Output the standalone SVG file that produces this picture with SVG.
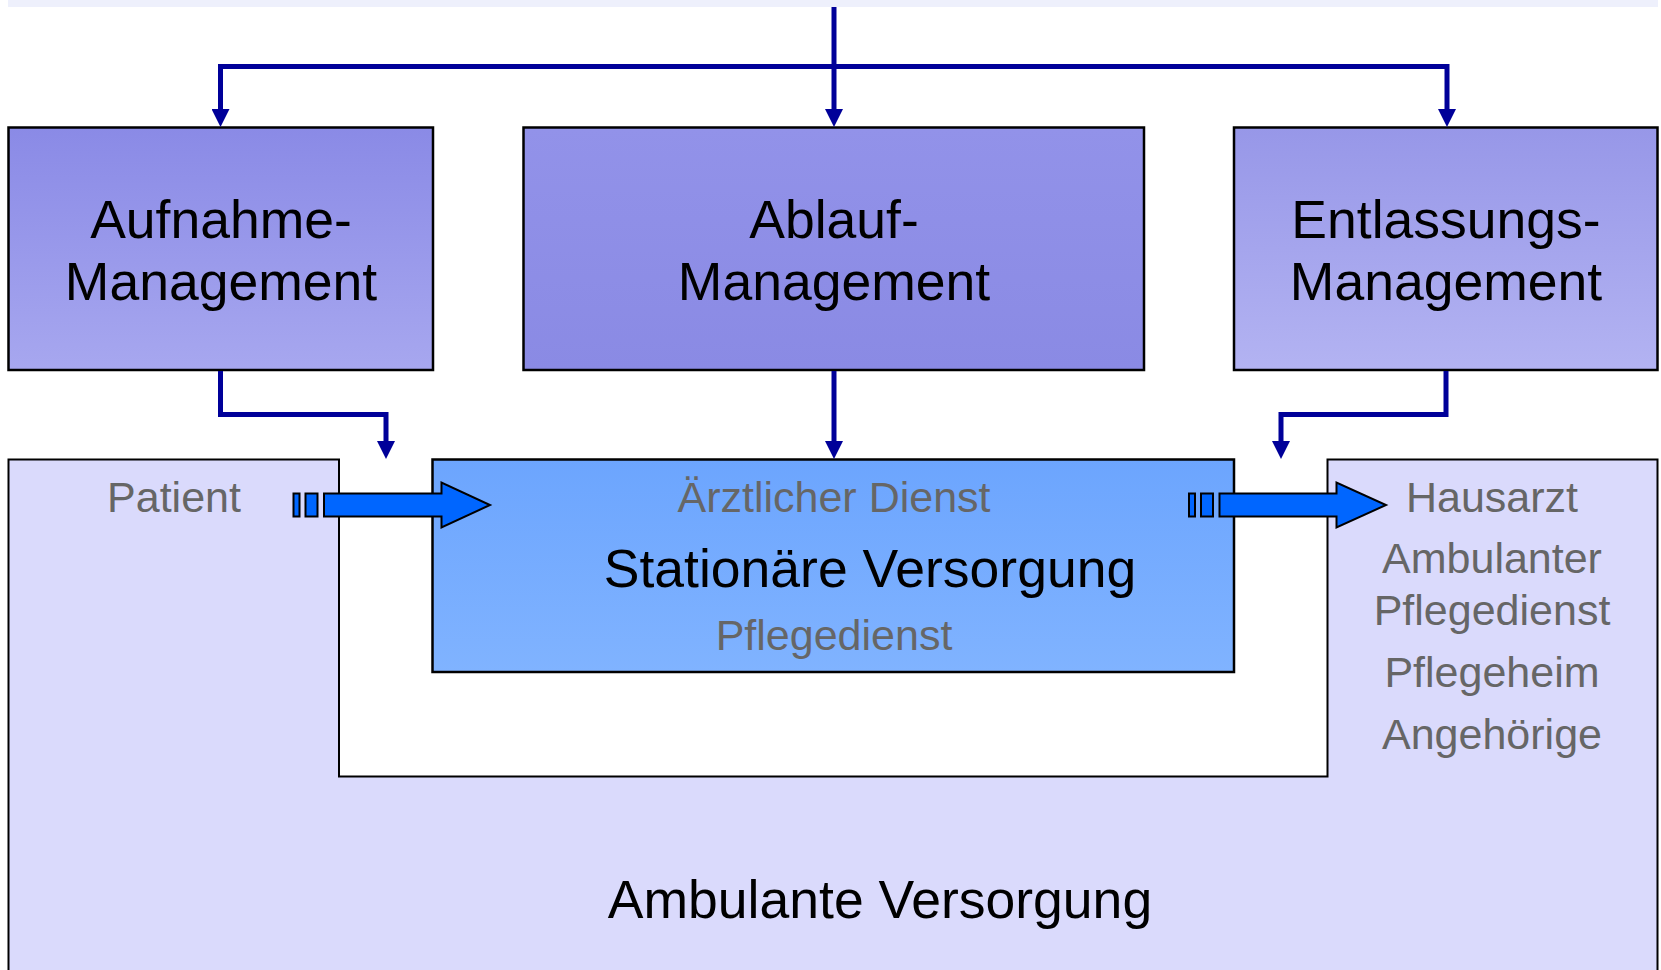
<svg xmlns="http://www.w3.org/2000/svg" width="1661" height="970" viewBox="0 0 1661 970">
<style>
.t{font-family:"Liberation Sans",Arial,sans-serif;text-anchor:middle}
.big{font-size:53.5px;fill:#000}
.sm{font-size:43px;fill:#666}
.box{stroke:#000;stroke-width:2.5}
.con{fill:none;stroke:#000099;stroke-width:5}
.flow{fill:#0066FF;stroke:#000;stroke-width:2}
</style>
<defs>
<linearGradient id="gA" x1="0" y1="0" x2="0" y2="1"><stop offset="0" stop-color="#8A8AE6"/><stop offset="1" stop-color="#A7A7EF"/></linearGradient>
<linearGradient id="gB" x1="0" y1="0" x2="0" y2="1"><stop offset="0" stop-color="#9292E9"/><stop offset="1" stop-color="#8A8AE4"/></linearGradient>
<linearGradient id="gC" x1="0" y1="0" x2="0" y2="1"><stop offset="0" stop-color="#9797E8"/><stop offset="1" stop-color="#B3B3F2"/></linearGradient>
<linearGradient id="gS" x1="0" y1="0" x2="0" y2="1"><stop offset="0" stop-color="#6CA5FE"/><stop offset="1" stop-color="#80B3FF"/></linearGradient>
<marker id="ah" viewBox="0 0 18 18" refX="0" refY="9" markerWidth="18" markerHeight="18" markerUnits="userSpaceOnUse" orient="auto"><path d="M0,0 L18,9 L0,18 Z" fill="#000099"/></marker>
</defs>
<rect x="8" y="0" width="1650" height="7" fill="#EEF0FC"/>
<g id="ambulant">
<path d="M8.5,459.5 H339 V776.5 H1327.5 V459.5 H1657.5 V980 H8.5 Z" fill="#DADAFC" stroke="#000" stroke-width="2"/>
<text class="t big" x="880" y="918">Ambulante Versorgung</text>
<text class="t sm" x="174" y="512">Patient</text>
<text class="t sm" x="1492" y="512">Hausarzt</text>
<text class="t sm" x="1492" y="573">Ambulanter</text>
<text class="t sm" x="1492" y="625">Pflegedienst</text>
<text class="t sm" x="1492" y="687">Pflegeheim</text>
<text class="t sm" x="1492" y="749">Angehörige</text>
</g>
<g id="stationaer">
<rect class="box" x="432.5" y="459.5" width="801.5" height="212.5" fill="url(#gS)" stroke-width="2"/>
<text class="t sm" x="834" y="512">Ärztlicher Dienst</text>
<text class="t big" x="870" y="587">Stationäre Versorgung</text>
<text class="t sm" x="834" y="650">Pflegedienst</text>
</g>
<g id="aufnahme">
<rect class="box" x="8.5" y="127.5" width="424.5" height="242.5" fill="url(#gA)"/>
<text class="t big" x="221" y="238">Aufnahme-</text>
<text class="t big" x="221" y="300">Management</text>
</g>
<g id="ablauf">
<rect class="box" x="523.5" y="127.5" width="620.5" height="242.5" fill="url(#gB)"/>
<text class="t big" x="834" y="238">Ablauf-</text>
<text class="t big" x="834" y="300">Management</text>
</g>
<g id="entlassung">
<rect class="box" x="1234" y="127.5" width="423.5" height="242.5" fill="url(#gC)"/>
<text class="t big" x="1446" y="238">Entlassungs-</text>
<text class="t big" x="1446" y="300">Management</text>
</g>
<g id="connectors">
<path class="con" d="M834,7 V109" marker-end="url(#ah)"/>
<path class="con" d="M220.5,66.5 H1447"/>
<path class="con" d="M220.5,64 V109" marker-end="url(#ah)"/>
<path class="con" d="M1447,64 V109" marker-end="url(#ah)"/>
<path class="con" d="M220.5,371 V414.5 H386 V441" marker-end="url(#ah)"/>
<path class="con" d="M834,371 V441" marker-end="url(#ah)"/>
<path class="con" d="M1446,371 V414.5 H1281 V441" marker-end="url(#ah)"/>
<g id="flow-in">
<rect class="flow" x="293.5" y="493.5" width="6" height="23"/>
<rect class="flow" x="305.5" y="493.5" width="12" height="23"/>
<path class="flow" d="M324,493.5 H441.5 V482.5 L490,505 L441.5,527.5 V516.5 H324 Z"/>
</g>
<g id="flow-out">
<rect class="flow" x="1189" y="493.5" width="6" height="23"/>
<rect class="flow" x="1201" y="493.5" width="12" height="23"/>
<path class="flow" d="M1219.5,493.5 H1336.5 V482.5 L1386,505 L1336.5,527.5 V516.5 H1219.5 Z"/>
</g>
</g>
</svg>
